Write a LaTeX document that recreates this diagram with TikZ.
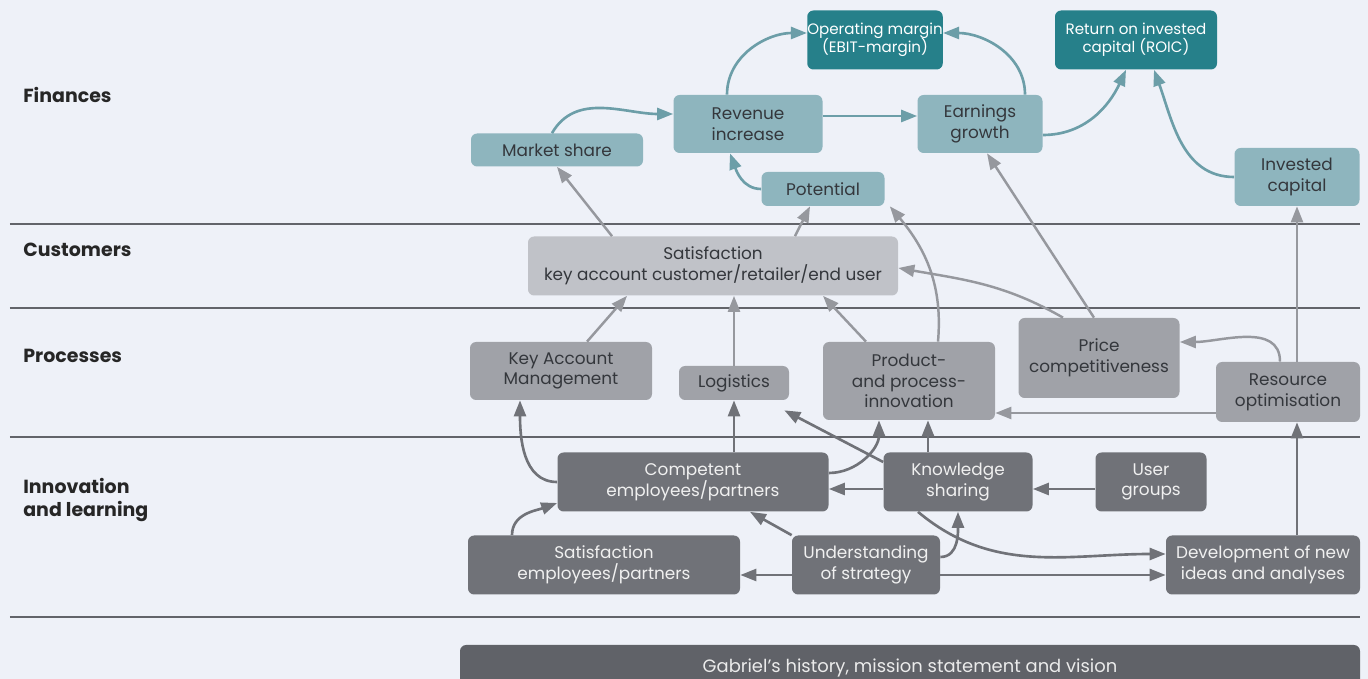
\documentclass[tikz,border=0pt]{standalone}
\usepackage{fontspec}
\setmainfont{Poppins}
\usetikzlibrary{arrows.meta}
\definecolor{bgcol}{RGB}{238,241,248}
\definecolor{tealdk}{RGB}{38,128,138}
\definecolor{teallt}{RGB}{142,181,190}
\definecolor{tealln}{RGB}{108,158,168}
\definecolor{greylt}{RGB}{192,194,200}
\definecolor{greymd}{RGB}{160,162,168}
\definecolor{greydk}{RGB}{112,114,120}
\definecolor{greybar}{RGB}{96,98,104}
\definecolor{greyln}{RGB}{150,152,158}
\definecolor{sepln}{RGB}{98,100,106}
\definecolor{txtdk}{RGB}{52,55,60}
\begin{document}
\begin{tikzpicture}[
    box/.style={rounded corners=3.5pt, align=center, inner sep=0pt, font=\fontsize{9.6}{11.8}\selectfont},
    fintop/.style={box, fill=tealdk, text=white, font=\fontsize{8.6}{10.4}\selectfont},
    finbox/.style={box, fill=teallt, text=txtdk},
    custbox/.style={box, fill=greylt, text=txtdk},
    procbox/.style={box, fill=greymd, text=txtdk},
    learnbox/.style={box, fill=greydk, text=white!94!black},
    layer/.style={anchor=west, align=left, inner sep=0pt, text=black!85, font=\bfseries\fontsize{10.8}{13.5}\selectfont},
    tealarrow/.style={-{Triangle[length=3.2mm,width=2.4mm]}, line width=1.5pt, tealln},
    greyarrow/.style={-{Triangle[length=3.2mm,width=2.4mm]}, line width=1.4pt, greyln},
    darkarrow/.style={-{Triangle[length=3.2mm,width=2.4mm]}, line width=1.5pt, greydk}
]
    % Latar
    \useasboundingbox (0,0) rectangle (27.36,-13.58);
    \clip (0,0) rectangle (27.36,-13.58);
    \fill[bgcol] (0,0) rectangle (27.36,-13.58);
    % Garis lapisan
    \foreach \y in {-4.48,-6.16,-8.74,-12.34}
        \draw[sepln, line width=1.4pt] (0.2,\y) -- (27.2,\y);
    % Lapisan
    \node[layer] (lfin) at (0.46,-1.9) {Finances};
    \node[layer] (lcust) at (0.46,-5.0) {Customers};
    \node[layer] (lproc) at (0.46,-7.12) {Processes};
    \node[layer] (llearn) at (0.46,-10.0) {Innovation\\and learning};
    % Finances
    \node[fintop, minimum width=2.7cm, minimum height=1.18cm] (opm) at (17.50,-0.80) {Operating margin\\(EBIT-margin)};
    \node[fintop, minimum width=3.24cm, minimum height=1.18cm] (roic) at (22.72,-0.80) {Return on invested\\capital (ROIC)};
    \node[finbox, minimum width=2.98cm, minimum height=1.16cm] (rev) at (14.96,-2.48) {Revenue\\increase};
    \node[finbox, minimum width=2.5cm, minimum height=1.16cm] (earn) at (19.60,-2.48) {Earnings\\growth};
    \node[finbox, minimum width=3.44cm, minimum height=0.66cm] (mshare) at (11.14,-3.00) {Market share};
    \node[finbox, minimum width=2.46cm, minimum height=0.68cm] (pot) at (16.46,-3.78) {Potential};
    \node[finbox, minimum width=2.5cm, minimum height=1.16cm] (invc) at (25.94,-3.54) {Invested\\capital};
    % Customers
    \node[custbox, minimum width=7.4cm, minimum height=1.18cm] (satc) at (14.26,-5.32) {Satisfaction\\key account customer/retailer/end user};
    % Processes
    \node[procbox, minimum width=3.64cm, minimum height=1.16cm] (kam) at (11.22,-7.42) {Key Account\\Management};
    \node[procbox, minimum width=2.2cm, minimum height=0.68cm] (logi) at (14.68,-7.66) {Logistics};
    \node[procbox, minimum width=3.44cm, minimum height=1.56cm] (prod) at (18.18,-7.62) {Product-\\and process-\\innovation};
    \node[procbox, minimum width=3.22cm, minimum height=1.6cm] (price) at (21.98,-7.16) {Price\\competitiveness};
    \node[procbox, minimum width=2.88cm, minimum height=1.2cm] (reso) at (25.76,-7.84) {Resource\\optimisation};
    % Innovation and learning
    \node[learnbox, minimum width=5.42cm, minimum height=1.18cm] (comp) at (13.86,-9.64) {Competent\\employees/partners};
    \node[learnbox, minimum width=2.98cm, minimum height=1.18cm] (know) at (19.16,-9.64) {Knowledge\\sharing};
    \node[learnbox, minimum width=2.22cm, minimum height=1.18cm] (user) at (23.02,-9.64) {User\\groups};
    \node[learnbox, minimum width=5.44cm, minimum height=1.18cm] (sate) at (12.08,-11.30) {Satisfaction\\employees/partners};
    \node[learnbox, minimum width=2.96cm, minimum height=1.18cm] (under) at (17.32,-11.30) {Understanding\\of strategy};
    \node[learnbox, minimum width=3.88cm, minimum height=1.18cm] (devel) at (25.26,-11.30) {Development of new\\ideas and analyses};
    % Dasar
    \node[box, fill=greybar, text=white!92!black, font=\fontsize{10.2}{12}\selectfont, minimum width=18cm, minimum height=0.9cm] (base) at (18.20,-13.35) {Gabriel's history, mission statement and vision};
    % Panah keuangan
    \draw[tealarrow] ([xshift=-0.1cm]mshare.north) to[out=60,in=180] ([yshift=0.2cm]rev.west);
    \draw[tealarrow] ([xshift=-0.42cm]rev.north) to[out=90,in=180] ([yshift=0.14cm]opm.west);
    \draw[tealarrow] ([yshift=0.16cm]rev.east) -- ([yshift=0.16cm]earn.west);
    \draw[tealarrow] ([xshift=0.9cm]earn.north) to[out=90,in=0] ([yshift=0.14cm]opm.east);
    \draw[tealarrow] ([yshift=-0.22cm]earn.east) to[out=0,in=-115] ([xshift=-0.2cm]roic.south);
    \draw[tealarrow] (invc.west) to[out=180,in=-70] ([xshift=0.36cm]roic.south);
    \draw[tealarrow] (pot.west) to[out=180,in=-70] ([xshift=-0.36cm]rev.south);
    % Panah pelanggan dan proses
    \draw[greyarrow] ([xshift=-2.02cm]satc.north) -- (mshare.south);
    \draw[greyarrow] ([xshift=1.64cm]satc.north) -- ([xshift=-0.26cm]pot.south);
    \draw[greyarrow] ([xshift=0.58cm]prod.north) to[out=85,in=-50] ([xshift=0.1cm]pot.south east);
    \draw[greyarrow] ([xshift=-0.72cm]price.north) to[out=150,in=-10] ([yshift=-0.04cm]satc.east);
    \draw[greyarrow] ([xshift=-0.1cm]price.north) -- ([xshift=0.14cm]earn.south);
    \draw[greyarrow] ([xshift=0.52cm]kam.north) -- ([xshift=-1.72cm]satc.south);
    \draw[greyarrow] (logi.north) -- (logi.north |- satc.south);
    \draw[greyarrow] ([xshift=-0.86cm]prod.north) -- ([xshift=2.2cm]satc.south);
    \draw[greyarrow] ([xshift=-0.16cm]reso.north) to[out=90,in=0] ([yshift=0.32cm]price.east);
    \draw[greyarrow] ([yshift=-0.42cm]reso.west) -- ([yshift=-0.42cm]reso.west -| prod.east);
    \draw[greyarrow] (invc.south |- reso.north) -- (invc.south);
    % Panah inovasi
    \draw[darkarrow] (comp.west) to[out=180,in=-90] ([xshift=-0.82cm]kam.south);
    \draw[darkarrow] (logi.south |- comp.north) -- (logi.south);
    \draw[darkarrow] ([yshift=0.18cm]comp.east) to[out=0,in=-90] ([xshift=-0.6cm]prod.south);
    \draw[darkarrow] ([yshift=0.4cm]know.west) -- ([shift={(-0.1cm,-0.2cm)}]logi.south east);
    \draw[darkarrow] ([xshift=-0.6cm]know.north) -- ([xshift=-0.6cm]know.north |- prod.south);
    \draw[darkarrow] ([yshift=-0.14cm]know.west) -- ([yshift=-0.14cm]comp.east);
    \draw[darkarrow] ([yshift=-0.14cm]user.west) -- ([yshift=-0.14cm]know.east);
    \draw[darkarrow] ([xshift=-0.8cm]know.south) to[out=-40,in=180] ([yshift=0.22cm]devel.west);
    \draw[darkarrow] ([yshift=-0.2cm]under.west) -- ([yshift=-0.2cm]sate.east);
    \draw[darkarrow] ([yshift=-0.2cm]under.east) -- ([yshift=-0.2cm]devel.west);
    \draw[darkarrow] (under.north west) -- ([xshift=1.14cm]comp.south);
    \draw[darkarrow] ([yshift=0.16cm]under.east) to[out=0,in=-90] (know.south);
    \draw[darkarrow] ([xshift=-1.84cm]sate.north) to[out=90,in=200] ([yshift=-0.42cm]comp.west);
    \draw[darkarrow] (invc.south |- devel.north) -- (invc.south |- reso.south);
\end{tikzpicture}
\end{document}
